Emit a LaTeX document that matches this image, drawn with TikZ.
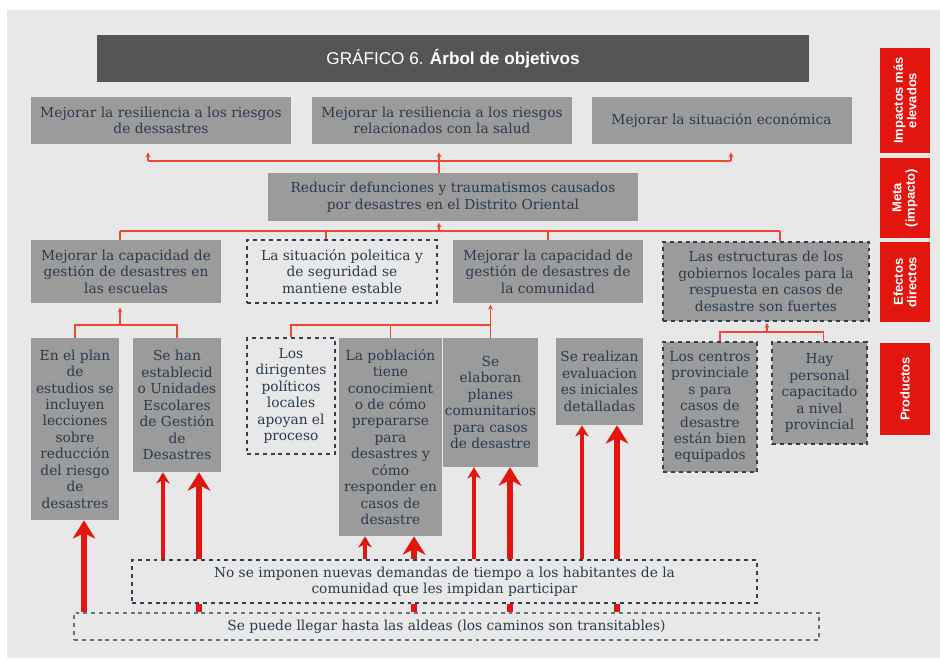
\documentclass[tikz,border=0pt]{standalone}
\usepackage{fontspec}
\setmainfont{DejaVu Serif}
\newfontfamily\titelfont{Liberation Sans}
\usetikzlibrary{arrows.meta}
\definecolor{bgGrey}{HTML}{E8E8E8}
\definecolor{boxGrey}{HTML}{9B9B9B}
\definecolor{titleGrey}{HTML}{555555}
\definecolor{inkBlue}{HTML}{2A3B4D}
\definecolor{dashBlue}{HTML}{2F4052}
\definecolor{arbolRot}{HTML}{E3150F}
\definecolor{linkRot}{HTML}{EA4B35}
\begin{document}
\begin{tikzpicture}[
      font=\fontsize{9.8}{11.7}\selectfont,
      caja/.style={fill=boxGrey, text=inkBlue, align=center, inner sep=1pt},
      supuesto/.style={draw=dashBlue, dash pattern=on 2.8pt off 2.8pt, line width=0.8pt, text=inkBlue, align=center},
      nivel/.style={fill=arbolRot, text=white, align=center, rotate=90, minimum height=1.25cm, inner sep=1pt, font=\titelfont\fontsize{9.2}{9.6}\selectfont\bfseries},
      enlace/.style={draw=linkRot, line width=0.8pt},
      flechita/.style={enlace, -{Stealth[length=3.5pt,width=3.5pt]}},
      flecha/.style={draw=arbolRot, line width=2.5pt, -{Stealth[length=8pt,width=9.5pt,inset=2.5pt]}},
      flechota/.style={draw=arbolRot, line width=4.3pt, -{Stealth[length=13pt,width=16pt,inset=4pt]}}
    ]
      \useasboundingbox (0,0) rectangle (23.5,-16.45);
      \fill[bgGrey] (0.175,-0.25) rectangle (23.5,-16.45);
      \node[fill=titleGrey, text=white, minimum width=17.8cm, minimum height=1.175cm, font=\titelfont\fontsize{12.2}{14}\selectfont] (titulo) at (11.325,-1.4625) {GRÁFICO 6. \textbf{Árbol de objetivos}};

      \node[caja, minimum width=6.5cm, minimum height=1.175cm] (a1) at (4.025,-3.0125) {Mejorar la resiliencia a los riesgos\\ de dessastres};
      \node[caja, minimum width=6.5cm, minimum height=1.175cm] (a2) at (11.05,-3.0125) {Mejorar la resiliencia a los riesgos\\ relacionados con la salud};
      \node[caja, minimum width=6.5cm, minimum height=1.175cm] (a3) at (18.0375,-3.0125) {Mejorar la situación económica};
      \node[caja, minimum width=9.25cm, minimum height=1.2cm] (goal) at (11.325,-4.925) {Reducir defunciones y traumatismos causados\\ por desastres en el Distrito Oriental};

      \node[caja, minimum width=4.75cm, minimum height=1.575cm] (b1) at (3.15,-6.7875) {Mejorar la capacidad de\\ gestión de desastres en\\ las escuelas};
      \node[supuesto, minimum width=4.75cm, minimum height=1.575cm] (b2) at (8.55,-6.7875) {La situación poleitica y\\ de seguridad se\\ mantiene estable};
      \node[caja, minimum width=4.75cm, minimum height=1.575cm] (b3) at (13.7,-6.7875) {Mejorar la capacidad de\\ gestión de desastres de\\ la comunidad};
      \node[caja, supuesto, minimum width=5.15cm, minimum height=1.975cm] (b4) at (19.15,-7.0375) {Las estructuras de los\\ gobiernos locales para la\\ respuesta en casos de\\ desastre son fuertes};

      \node[caja, minimum width=2.2cm, minimum height=4.55cm] (c1) at (1.875,-10.725) {En el plan\\ de\\ estudios se\\ incluyen\\ lecciones\\ sobre\\ reducción\\ del riesgo\\ de\\ desastres};
      \node[caja, minimum width=2.2cm, minimum height=3.35cm] (c2) at (4.425,-10.125) {Se han\\ establecid\\ o Unidades\\ Escolares\\ de Gestión\\ de\\ Desastres};
      \node[supuesto, minimum width=2.2cm, minimum height=2.9cm] (c3) at (7.275,-9.9) {Los\\ dirigentes\\ políticos\\ locales\\ apoyan el\\ proceso};
      \node[caja, minimum width=2.575cm, minimum height=4.95cm] (c4) at (9.7625,-10.925) {La población\\ tiene\\ conocimient\\ o de cómo\\ prepararse\\ para\\ desastres y\\ cómo\\ responder en\\ casos de\\ desastre};
      \node[caja, minimum width=2.175cm, minimum height=3.225cm] (c5) at (12.2625,-10.0625) {Se\\ elaboran\\ planes\\ comunitarios\\ para casos\\ de desastre};
      \node[caja, minimum width=2.175cm, minimum height=2.175cm] (c6) at (14.9875,-9.5375) {Se realizan\\ evaluacion\\ es iniciales\\ detalladas};
      \node[caja, supuesto, minimum width=2.35cm, minimum height=3.25cm] (c7) at (17.75,-10.175) {Los centros\\ provinciale\\ s para\\ casos de\\ desastre\\ están bien\\ equipados};
      \node[caja, supuesto, minimum width=2.375cm, minimum height=2.55cm] (c8) at (20.4875,-9.825) {Hay\\ personal\\ capacitado\\ a nivel\\ provincial};

      \node[supuesto, minimum width=15.625cm, minimum height=1.075cm] (d1) at (11.1125,-14.5375) {No se imponen nuevas demandas de tiempo a los habitantes de la\\ comunidad que les impidan participar};
      \node[supuesto, draw=dashBlue!75, minimum width=18.625cm, minimum height=0.675cm] (d2) at (11.1625,-15.6625) {Se puede llegar hasta las aldeas (los caminos son transitables)};

      \node[nivel, minimum width=2.625cm] (n1) at (22.625,-2.5125) {Impactos más\\ elevados};
      \node[nivel, minimum width=2.0cm] (n2) at (22.625,-4.95) {Meta\\ (impacto)};
      \node[nivel, minimum width=2.0cm] (n3) at (22.625,-7.05) {Efectos\\ directos};
      \node[nivel, minimum width=2.3cm] (n4) at (22.625,-9.725) {Productos};

      \coordinate (t1) at (3.7,-4.025);
      \coordinate (t2) at (10.975,-4.025);
      \coordinate (t3) at (18.275,-4.025);
      \draw[enlace] (t1) -- (t3);
      \draw[flechita, shorten >=0.2cm] (t1) -- (t1 |- a1.south);
      \draw[flechita, shorten >=0.2cm] (t2 |- goal.north) -- (t2 |- a2.south);
      \draw[flechita, shorten >=0.2cm] (t3) -- (t3 |- a3.south);

      \coordinate (bm1) at (3.0,-5.775);
      \coordinate (bm2) at (8.15,-5.775);
      \coordinate (bm3) at (13.7,-5.775);
      \coordinate (bm4) at (19.5,-5.775);
      \draw[enlace] (bm1) -- (bm4);
      \draw[flechita, shorten >=1pt] (t2 |- bm1) -- (t2 |- goal.south);
      \foreach \i in {1,...,4}
        \draw[enlace] (bm\i) -- (bm\i |- b\i.north);

      \coordinate (s1) at (3.0,-8.125);
      \draw[enlace] (c1.north) |- (s1) -| (c2.north);
      \draw[flechita, shorten >=0.1cm] (s1) -- (s1 |- b1.south);
      \coordinate (s3) at (12.2625,-8.125);
      \draw[enlace] (c3.north) |- (s3) -- (c5.north);
      \draw[enlace] (c4.north) -- (c4.north |- s3);
      \draw[flechita, shorten >=1pt] (s3) -- (s3 |- b3.south);
      \coordinate (s4) at (19.175,-8.3);
      \draw[enlace] ([xshift=0.25cm]c7.north) |- (s4) -| ([xshift=0.09cm]c8.north);
      \draw[flechita, shorten >=1pt] (s4) -- (s4 |- b4.south);

      \foreach \n/\x in {c2/4.075, c4/9.125, c5/11.85, c6/14.55} {
        \coordinate (f) at (\x,0);
        \draw[flecha] (f |- d1.north) -- (f |- \n.south);
      }
      \foreach \n/\x in {c2/4.975, c4/10.35, c5/12.75, c6/15.425} {
        \coordinate (g) at (\x,0);
        \draw[arbolRot, line width=4.3pt] (g |- d2.north) -- (g |- d1.south);
        \draw[flechota] (g |- d1.north) -- (g |- \n.south);
      }
      \coordinate (g1) at (2.1,0);
      \draw[flechota] (g1 |- d2.north) -- (g1 |- c1.south);
    \end{tikzpicture}
\end{document}
